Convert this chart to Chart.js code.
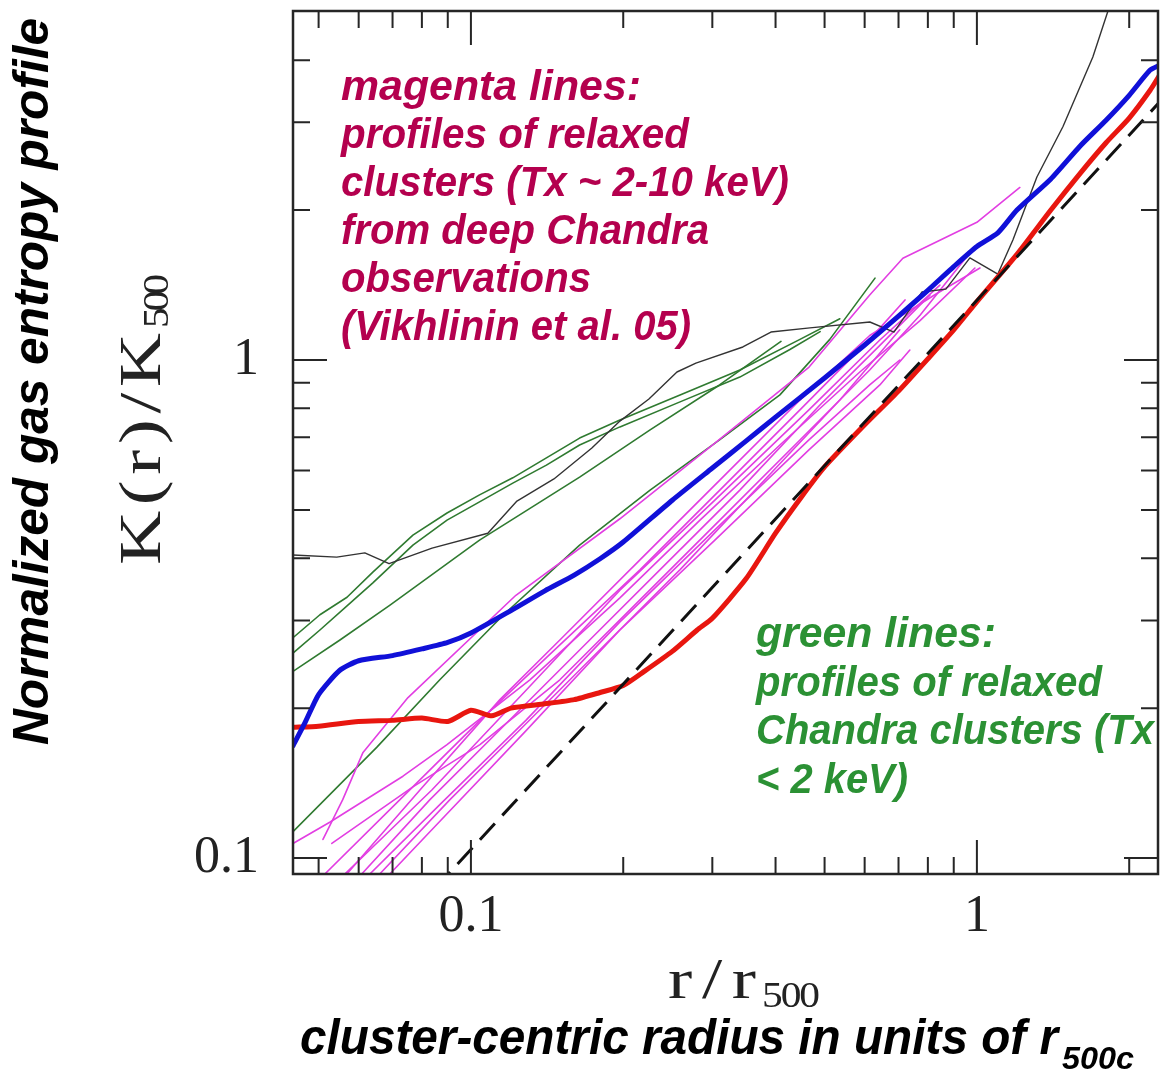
<!DOCTYPE html>
<html>
<head>
<meta charset="utf-8">
<script src="https://cdn.jsdelivr.net/npm/chart.js@4.4.1/dist/chart.umd.min.js"></script>
<style>
  html, body { margin: 0; padding: 0; background: #fff; }
  canvas { display: block; }
</style>
</head>
<body>
<canvas id="entropyChart" width="1161" height="1069"></canvas>
<script>
// [r/r500, K/K500] pairs
const blueMedian = [[0.0445,0.168],[0.047,0.187],[0.05,0.213],[0.055,0.238],[0.06,0.249],[0.07,0.255],[0.08,0.263],[0.09,0.271],[0.1,0.283],[0.12,0.314],[0.14,0.344],[0.16,0.370],[0.18,0.399],[0.2,0.431],[0.25,0.523],[0.3,0.607],[0.35,0.688],[0.4,0.768],[0.5,0.920],[0.6,1.072],[0.7,1.225],[0.8,1.38],[0.9,1.54],[1.0,1.69],[1.1,1.80],[1.2,2.0],[1.4,2.31],[1.6,2.69],[1.8,3.03],[2.0,3.40],[2.2,3.82],[2.3,3.91]];
const redMedian = [[0.0445,0.183],[0.05,0.184],[0.06,0.188],[0.07,0.189],[0.08,0.191],[0.09,0.188],[0.1,0.198],[0.11,0.193],[0.12,0.200],[0.14,0.204],[0.16,0.208],[0.18,0.215],[0.2,0.222],[0.22,0.237],[0.25,0.260],[0.28,0.287],[0.3,0.303],[0.35,0.364],[0.4,0.449],[0.45,0.531],[0.5,0.610],[0.6,0.741],[0.7,0.866],[0.8,1.005],[0.9,1.149],[1.0,1.31],[1.2,1.63],[1.4,2.00],[1.6,2.37],[1.8,2.73],[2.0,3.06],[2.2,3.48],[2.3,3.74]];
const blackProfile = [[0.0445,0.406],[0.0543,0.402],[0.0617,0.410],[0.0689,0.390],[0.0838,0.419],[0.108,0.449],[0.1233,0.521],[0.1459,0.577],[0.1734,0.666],[0.197,0.754],[0.2248,0.835],[0.2554,0.946],[0.2784,0.986],[0.3447,1.062],[0.3917,1.138],[0.4677,1.160],[0.6144,1.192],[0.6855,1.138],[0.7785,1.369],[0.8683,1.388],[0.9687,1.603],[1.10,1.488],[1.178,1.742],[1.314,2.33],[1.479,2.94],[1.695,4.06],[1.832,5.16]];
const baseline = [[0.085,0.087],[2.3,3.3]];

const green1 = [[0.0445,0.277],[0.0503,0.308],[0.0569,0.334],[0.064,0.375],[0.0768,0.445],[0.0897,0.493],[0.104,0.536],[0.121,0.580],[0.141,0.636],[0.164,0.697],[0.197,0.758],[0.259,0.851],[0.340,0.955],[0.447,1.10],[0.536,1.21]];
const green2 = [[0.0445,0.258],[0.0503,0.287],[0.0569,0.321],[0.064,0.357],[0.0768,0.425],[0.0897,0.477],[0.104,0.519],[0.121,0.566],[0.141,0.615],[0.164,0.675],[0.197,0.734],[0.259,0.824],[0.340,0.924],[0.427,1.05],[0.49,1.14]];
const green3 = [[0.0445,0.237],[0.0551,0.274],[0.0692,0.322],[0.104,0.435],[0.164,0.582],[0.226,0.724],[0.310,0.891],[0.41,1.09]];
const green4 = [[0.0445,0.113],[0.0652,0.167],[0.0868,0.228],[0.116,0.308],[0.164,0.425],[0.226,0.548],[0.310,0.691],[0.408,0.851],[0.512,1.10],[0.629,1.46]];

const magenta1 = [[0.0510,0.109],[0.0558,0.131],[0.0612,0.163],[0.0751,0.210],[0.1227,0.337],[0.197,0.480],[0.3035,0.681],[0.466,0.968],[0.614,1.35],[0.714,1.60],[1.0,1.89],[1.216,2.22]];
const magenta2 = [[0.0445,0.107],[0.0526,0.118],[0.0734,0.146],[0.0897,0.169],[0.1308,0.228],[0.197,0.333],[0.2836,0.477],[0.408,0.675],[0.587,0.946],[0.772,1.20],[0.991,1.53]];
const magenta3 = [[0.0531,0.107],[0.0768,0.139],[0.1042,0.169],[0.1499,0.228],[0.2158,0.330],[0.3104,0.477],[0.447,0.691],[0.614,0.955],[0.772,1.23],[0.991,1.69]];
const magenta4 = [[0.0515,0.093],[0.0724,0.131],[0.1042,0.189],[0.1499,0.268],[0.2158,0.379],[0.3104,0.548],[0.447,0.794],[0.614,1.10],[0.721,1.32]];
const magenta5 = [[0.0609,0.093],[0.083,0.131],[0.1141,0.181],[0.1642,0.262],[0.2363,0.379],[0.340,0.548],[0.4895,0.812],[0.643,1.07],[0.8075,1.35]];
const magenta6 = [[0.0661,0.093],[0.0909,0.131],[0.125,0.181],[0.1799,0.262],[0.2588,0.379],[0.3724,0.561],[0.536,0.831],[0.704,1.15]];
const magenta7 = [[0.0692,0.093],[0.0837,0.114],[0.1284,0.180],[0.197,0.287],[0.3035,0.435],[0.4656,0.660],[0.643,0.891],[0.737,1.047]];
const magenta8 = [[0.0564,0.093],[0.0837,0.137],[0.1284,0.217],[0.197,0.345],[0.3035,0.523],[0.4656,0.794],[0.643,1.097],[0.845,1.414]];
const magenta9 = [[0.0632,0.093],[0.0868,0.128],[0.1284,0.189],[0.197,0.298],[0.3035,0.456],[0.4656,0.691],[0.614,0.891],[0.704,1.0]];
const magenta10 = [[0.0569,0.093],[0.0793,0.137],[0.1141,0.208],[0.1499,0.274],[0.2158,0.397],[0.3104,0.574],[0.447,0.831],[0.614,1.12],[0.8335,1.36],[1.014,1.53]];

const xMajorTicks = [0.1, 1];
const xMinorTicks = [0.05, 0.06, 0.07, 0.08, 0.09, 0.2, 0.3, 0.4, 0.5, 0.6, 0.7, 0.8, 0.9, 2];
const yMajorTicks = [0.1, 1];
const yMinorTicks = [0.2, 0.3, 0.4, 0.5, 0.6, 0.7, 0.8, 0.9, 2, 3, 4];

const magentaNote = ['magenta lines:', 'profiles of relaxed', 'clusters (Tx ~ 2-10 keV)', 'from deep Chandra', 'observations', '(Vikhlinin et al. 05)'];
const magentaNoteWidths = [300, 348, 448, 368, 250, 350];
const greenNote = ['green lines:', 'profiles of relaxed', 'Chandra clusters (Tx', '< 2 keV)'];
const greenNoteWidths = [240, 346, 398, 152];

function toPoints(pairs) {
    return pairs.map(p => ({ x: p[0], y: p[1] }));
}

function lineSet(label, pairs, color, width, extra) {
    return Object.assign({
        label: label,
        data: toPoints(pairs),
        borderColor: color,
        borderWidth: width,
        pointRadius: 0,
        fill: false,
        tension: 0,
        borderJoinStyle: 'round',
        borderCapStyle: 'round',
        clip: 0
    }, extra || {});
}

// draws text squeezed / stretched to a given width
function fitText(ctx, text, x, y, width, font, color, angle) {
    ctx.save();
    ctx.font = font;
    ctx.fillStyle = color;
    ctx.textAlign = 'left';
    ctx.textBaseline = 'alphabetic';
    ctx.translate(x, y);
    if (angle) ctx.rotate(angle);
    const w = ctx.measureText(text).width;
    ctx.scale(width / w, 1);
    ctx.fillText(text, 0, 0);
    ctx.restore();
}

// widens glyphs a bit and spreads the rest (keeps the serif strokes thin)
function wideText(ctx, text, x, y, width, font, color, angle, stretch) {
    ctx.save();
    ctx.font = font;
    ctx.fillStyle = color;
    ctx.textAlign = 'left';
    ctx.textBaseline = 'alphabetic';
    ctx.translate(x, y);
    if (angle) ctx.rotate(angle);
    ctx.scale(stretch, 1);
    const chars = Array.from(text);
    const w = ctx.measureText(text).width;
    const gap = chars.length > 1 ? (width / stretch - w) / (chars.length - 1) : 0;
    let pos = 0;
    chars.forEach(c => {
        ctx.fillText(c, pos, 0);
        pos += ctx.measureText(c).width + gap;
    });
    ctx.restore();
}

const frameAndText = {
    id: 'frameAndText',
    afterDatasetsDraw(chart) {
        const ctx = chart.ctx;
        const a = chart.chartArea;
        const xs = chart.scales.x, ys = chart.scales.y;
        ctx.save();
        ctx.strokeStyle = '#262626';
        ctx.lineWidth = 2;
        ctx.beginPath();
        const xTick = (v, len) => {
            const p = xs.getPixelForValue(v);
            ctx.moveTo(p, a.bottom); ctx.lineTo(p, a.bottom - len);
            ctx.moveTo(p, a.top); ctx.lineTo(p, a.top + len);
        };
        const yTick = (v, len) => {
            const p = ys.getPixelForValue(v);
            ctx.moveTo(a.left, p); ctx.lineTo(a.left + len, p);
            ctx.moveTo(a.right, p); ctx.lineTo(a.right - len, p);
        };
        xMajorTicks.forEach(v => xTick(v, 34));
        xMinorTicks.forEach(v => xTick(v, 17));
        yMajorTicks.forEach(v => yTick(v, 34));
        yMinorTicks.forEach(v => yTick(v, 17));
        ctx.stroke();
        ctx.lineWidth = 2.5;
        ctx.strokeRect(a.left, a.top, a.right - a.left, a.bottom - a.top);
        ctx.restore();
    },
    afterDraw(chart) {
        const ctx = chart.ctx;
        const noteFont = 'italic bold 42px "Liberation Sans", Arial, sans-serif';
        magentaNote.forEach((t, i) => fitText(ctx, t, 341, 100 + 48 * i, magentaNoteWidths[i], noteFont, '#b4004e'));
        greenNote.forEach((t, i) => fitText(ctx, t, 756, 647 + 48.5 * i, greenNoteWidths[i], noteFont, '#2b9134'));

        const serif = '"Liberation Serif", "DejaVu Serif", serif';
        // axis labels
        wideText(ctx, 'r/r', 668, 998, 88, '56px ' + serif, '#222', 0, 1.3);
        wideText(ctx, '500', 762, 1007, 58, '36px ' + serif, '#222', 0, 1.15);
        wideText(ctx, 'K(r)/K', 160, 565, 232, '60px ' + serif, '#222', -Math.PI / 2, 1.25);
        wideText(ctx, '500', 168, 328, 54, '36px ' + serif, '#222', -Math.PI / 2, 1.15);

        // outer captions
        fitText(ctx, 'Normalized gas entropy profile', 48, 745, 727, 'italic bold 50px "Liberation Sans", Arial, sans-serif', '#000', -Math.PI / 2);
        fitText(ctx, 'cluster-centric radius in units of r', 300, 1054, 758, 'italic bold 50px "Liberation Sans", Arial, sans-serif', '#000');
        fitText(ctx, '500c', 1062, 1069, 72, 'italic bold 32px "Liberation Sans", Arial, sans-serif', '#000');
    }
};

new Chart(document.getElementById('entropyChart').getContext('2d'), {
    type: 'line',
    data: {
        datasets: [
            lineSet('median (blue)', blueMedian, '#1010d8', 5, { tension: 0.2 }),
            lineSet('baseline', baseline, '#111', 3, { borderDash: [22, 11], borderCapStyle: 'butt' }),
            lineSet('median (red)', redMedian, '#e8160f', 5, { tension: 0.2 }),
            lineSet('black', blackProfile, '#333', 1.4),
            lineSet('m1', magenta1, '#e23ee2', 1.6),
            lineSet('m2', magenta2, '#e23ee2', 1.6),
            lineSet('m3', magenta3, '#e23ee2', 1.6),
            lineSet('m4', magenta4, '#e23ee2', 1.6),
            lineSet('m5', magenta5, '#e23ee2', 1.6),
            lineSet('m6', magenta6, '#e23ee2', 1.6),
            lineSet('m7', magenta7, '#e23ee2', 1.6),
            lineSet('m8', magenta8, '#e23ee2', 1.6),
            lineSet('m9', magenta9, '#e23ee2', 1.6),
            lineSet('m10', magenta10, '#e23ee2', 1.6),
            lineSet('g1', green1, '#2f7a30', 1.6),
            lineSet('g2', green2, '#2f7a30', 1.6),
            lineSet('g3', green3, '#2f7a30', 1.6),
            lineSet('g4', green4, '#2f7a30', 1.6)
        ]
    },
    options: {
        responsive: false,
        devicePixelRatio: 1,
        animation: false,
        layout: { padding: { left: 0, right: 3, top: 11, bottom: 0 } },
        plugins: {
            legend: { display: false },
            tooltip: { enabled: false }
        },
        scales: {
            x: {
                type: 'logarithmic',
                min: 0.0445,
                max: 2.28,
                grid: { display: false, drawTicks: false },
                border: { display: false },
                afterBuildTicks: s => { s.ticks = xMajorTicks.map(v => ({ value: v })); },
                afterFit: s => { s.height = 195; s.paddingLeft = 0; s.paddingRight = 0; },
                ticks: {
                    autoSkip: false,
                    maxRotation: 0,
                    padding: 12,
                    color: '#222',
                    font: { family: '"Liberation Serif", "DejaVu Serif", serif', size: 52 },
                    callback: v => String(v)
                }
            },
            y: {
                type: 'logarithmic',
                min: 0.0929,
                max: 5.02,
                grid: { display: false, drawTicks: false },
                border: { display: false },
                afterBuildTicks: s => { s.ticks = yMajorTicks.map(v => ({ value: v })); },
                afterFit: s => { s.width = 293; s.paddingTop = 0; s.paddingBottom = 0; },
                ticks: {
                    autoSkip: false,
                    padding: 34,
                    color: '#222',
                    font: { family: '"Liberation Serif", "DejaVu Serif", serif', size: 52 },
                    callback: v => String(v)
                }
            }
        }
    },
    plugins: [frameAndText]
});
</script>
</body>
</html>
